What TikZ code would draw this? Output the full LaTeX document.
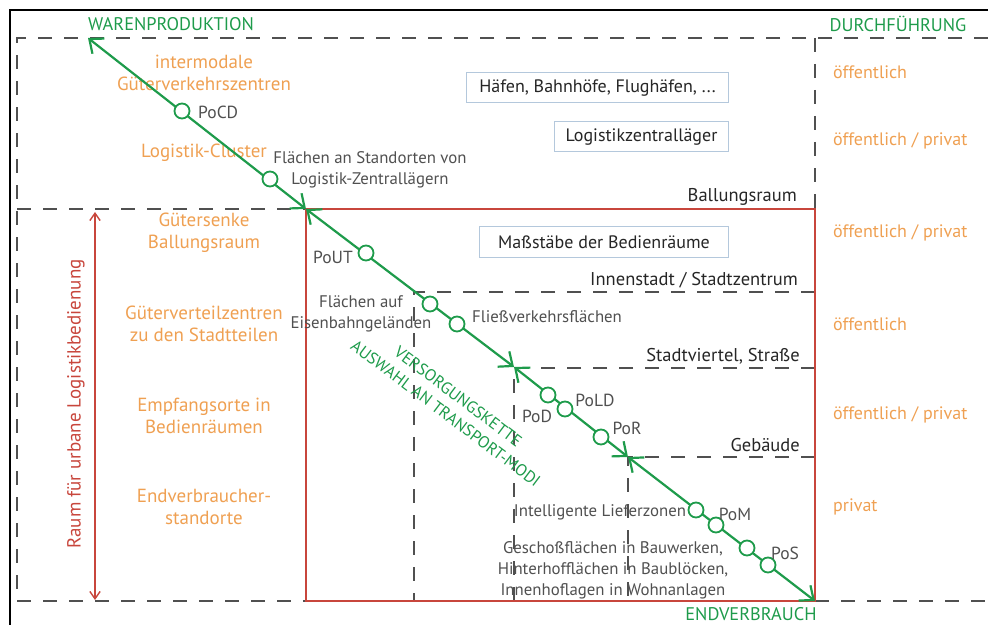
\documentclass[tikz,border=0pt]{standalone}
\usepackage{fontspec}
\setmainfont{PT Sans}
\usepackage{xcolor}
\usepackage{tikz}
\usetikzlibrary{arrows.meta,positioning}
\definecolor{gruen}{HTML}{1E9B4B}
\definecolor{orangehell}{HTML}{EFA052}
\definecolor{rot}{HTML}{C8463C}
\definecolor{grau}{HTML}{505050}
\definecolor{dunkel}{HTML}{262626}
\definecolor{kastenrand}{HTML}{B4C8DC}
\tikzset{
  schrift/.style={font=\fontsize{16.8bp}{21bp}\selectfont,inner sep=0pt},
  kasten/.style={draw=kastenrand,fill=white,line width=1bp,inner sep=0pt,font=\fontsize{18bp}{22bp}\selectfont,text=dunkel,minimum height=30bp,anchor=east},
  punkt/.style={circle,draw=gruen,fill=white,line width=1.8bp,minimum size=15bp,inner sep=0pt},
  kette/.style={{Straight Barb[angle=80:15bp]}-{Straight Barb[angle=80:15bp]},line width=2.2bp,gruen},
  raumpfeil/.style={{Straight Barb[angle=70:9bp]}-{Straight Barb[angle=70:9bp]},line width=1.4bp,rot},
  grenze/.style={grau,line width=1.5bp,dash pattern=on 14bp off 12bp},
  rahmen/.style={rot,line width=2bp},
  ebene/.style={schrift,text=orangehell,font=\fontsize{19bp}{22.5bp}\selectfont,align=center},
  traeger/.style={schrift,text=orangehell,font=\fontsize{18bp}{22bp}\selectfont,anchor=west},
  etikett/.style={schrift,text=grau,align=center},
  marke/.style={schrift,text=grau,font=\fontsize{17.5bp}{21bp}\selectfont},
  massstab/.style={schrift,text=dunkel,font=\fontsize{18.5bp}{22bp}\selectfont,anchor=east},
  titel/.style={schrift,text=gruen,font=\fontsize{18.3bp}{22bp}\selectfont},
}

\begin{document}
\begin{tikzpicture}[x=1bp,y=-1bp]
  \useasboundingbox (0,0) rectangle (988,625);
  % frame
  \draw[line width=1.3bp] (988,10) -- (10,10) -- (10,625);
  % raster
  \draw[grenze] (988,38) -- (17,38) -- (17,601) -- (306,601);
  \draw[grenze] (815,601) -- (988,601);
  \draw[grenze] (17,209) -- (306,209);
  \draw[grenze] (815,38) -- (815,209);
  \draw[grenze] (815,292) -- (414,292) -- (414,601);
  \draw[grenze] (815,368) -- (514,368) -- (514,601);
  \draw[grenze] (815,457) -- (628,457) -- (628,601);
  \draw[rahmen] (306,209) rectangle (815,601);

  % titles
  \node[titel] (ware) at (171,24) {WARENPRODUKTION};
  \node[titel] (durch) at (898,24) {DURCHFÜHRUNG};
  \node[titel] (endver) at (751,614) {ENDVERBRAUCH};

  % orange rows
  \node[ebene] (gvz) at (204,73) {intermodale\\Güterverkehrszentren};
  \node[ebene] (cluster) at (204,153) {Logistik-Cluster};
  \node[ebene] (senke) at (204,233) {Gütersenke\\Ballungsraum};
  \node[ebene] (verteil) at (204,324) {Güterverteilzentren\\zu den Stadtteilen};
  \node[ebene] (empfang) at (204,416) {Empfangsorte in\\Bedienräumen};
  \node[ebene] (endort) at (204,507) {Endverbraucher-\\standorte};
  \node[traeger] (t1) at (833,72) {öffentlich};
  \node[traeger] (t2) at (833,141) {öffentlich / privat};
  \node[traeger] (t3) at (833,233) {öffentlich / privat};
  \node[traeger] (t4) at (833,324) {öffentlich};
  \node[traeger] (t5) at (833,415) {öffentlich / privat};
  \node[traeger] (t6) at (833,507) {privat};

  % boxes and scales
  \node[kasten,minimum width=262bp] (haefen) at (729,88) {Häfen, Bahnhöfe, Flughäfen, ...};
  \node[kasten,minimum width=174bp] (lager) at (729,137) {Logistikzentralläger};
  \node[kasten,minimum width=249bp] (skala) at (729,242) {Maßstäbe der Bedienräume};
  \node[massstab] (ballung) at (797,197) {Ballungsraum};
  \node[massstab] (innen) at (798,280) {Innenstadt / Stadtzentrum};
  \node[massstab] (viertel) at (800,356) {Stadtviertel, Straße};
  \node[massstab] (gebaeude) at (800,445) {Gebäude};

  % supply chain
  \coordinate (prod) at (88,38);
  \coordinate (ball) at (306,209);
  \coordinate (stadt) at (514,367);
  \coordinate (geb) at (628,457);
  \coordinate (endv) at (815,601);
  \draw[kette] (prod) -- (ball);
  \draw[kette] (ball) -- (stadt);
  \draw[kette] (stadt) -- (geb);
  \draw[kette] (geb) -- (endv);
  \node[punkt] (pocd) at (182,111) {};
  \node[punkt] (zentral) at (270,179) {};
  \node[punkt] (pout) at (366,253) {};
  \node[punkt] (bahn) at (430,304) {};
  \node[punkt] (fluss) at (457,324) {};
  \node[punkt] (pod) at (548,395) {};
  \node[punkt] (pold) at (565,409) {};
  \node[punkt] (por) at (601,437) {};
  \node[punkt] (liefer) at (696,510) {};
  \node[punkt] (pom) at (716,525) {};
  \node[punkt] (flaeche) at (747,548) {};
  \node[punkt] (pos) at (768,565) {};

  % gray labels
  \node[marke,anchor=west] (lpocd) at (198,112) {PoCD};
  \node[etikett] (lzentral) at (370,170) {Flächen an Standorten von\\Logistik-Zentrallägern};
  \node[marke] (lpout) at (333,257) {PoUT};
  \node[etikett] (lbahn) at (361,314) {Flächen auf\\Eisenbahngeländen};
  \node[etikett,anchor=west] (lfluss) at (472,317) {Fließverkehrsflächen};
  \node[marke] (lpod) at (537,416) {PoD};
  \node[marke] (lpold) at (595,400) {PoLD};
  \node[marke] (lpor) at (627,428) {PoR};
  \node[etikett] (lliefer) at (600,512) {Intelligente Lieferzonen};
  \node[marke] (lpom) at (735,514) {PoM};
  \node[marke] (lpos) at (785,553) {PoS};
  \node[etikett] (lflaeche) at (613,570) {Geschoßflächen in Bauwerken,\\Hinterhofflächen in Baublöcken,\\Innenhoflagen in Wohnanlagen};

  \node[schrift,text=gruen,align=center,font=\fontsize{16.5bp}{21bp}\selectfont,rotate=-37] (modi) at (452,405) {VERSORGUNGSKETTE\\AUSWAHL AN TRANSPORT-MODI};

  % urban space
  \coordinate (raumo) at (95,212);
  \coordinate (raumu) at (95,600);
  \draw[raumpfeil] (raumo) -- (raumu);
  \node[schrift,text=rot,font=\fontsize{19bp}{21bp}\selectfont,rotate=90] (raum) at (76,404) {Raum für urbane Logistikbedienung};
\end{tikzpicture}
\end{document}
